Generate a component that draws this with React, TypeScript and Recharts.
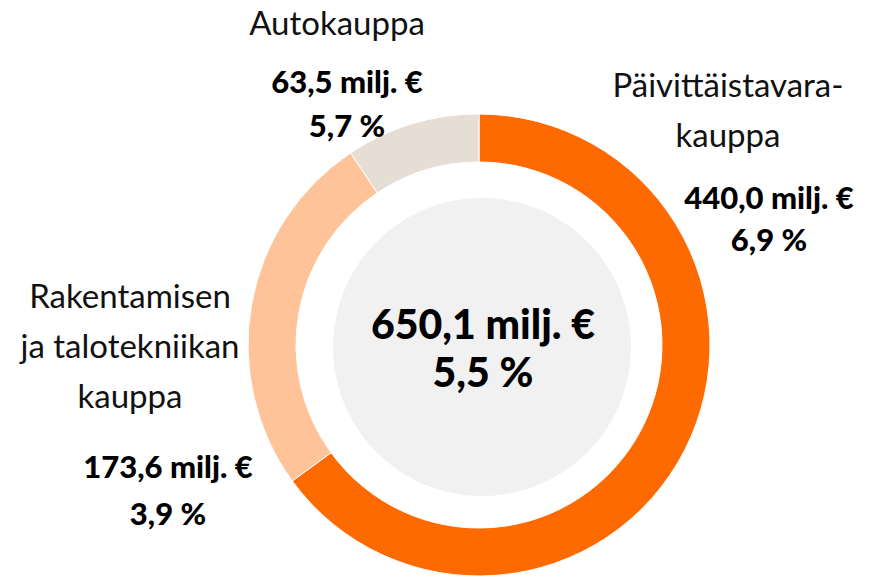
import React from "react";
import { PieChart, Pie, Cell } from "recharts";

/* ─── Segment data ─────────────────────────── */
const segments = ["Päivittäistavarakauppa", "Rakentamisen ja talotekniikan kauppa", "Autokauppa"];
const sales = [440.0, 173.6, 63.5];
const growth = [6.9, 3.9, 5.7];
const COLORS = ["#ff6a00", "#ffc39a", "#e6ded5"];

const totalSales = 650.1;
const totalGrowth = 5.5;

/* label text and placement (name lines + value block) */
const nameLines = [["Päivittäistavara-", "kauppa"], ["Rakentamisen", "ja talotekniikan", "kauppa"], ["Autokauppa"]];
const labelPos = [
  { nx: 728, ny: 59, vx: 769, vy: 176, vl: 42 },
  { nx: 130, ny: 270, vx: 168, vy: 443, vl: 47 },
  { nx: 337, ny: -3, vx: 347, vy: 59, vl: 44 },
];

const fmt = (v: number) => v.toFixed(1).replace(".", ",");
const FONT = "Lato, 'Noto Sans', sans-serif";

const data = segments.map((name, i) => ({ name, value: sales[i] }));

function Label({ i }: { i: number }) {
  const p = labelPos[i];
  return (
    <>
      <div style={{ position: "absolute", left: p.nx - 150, top: p.ny, width: 300, textAlign: "center", fontSize: 33, lineHeight: "50px", color: "#111", fontWeight: 400 }}>
        {nameLines[i].map((l) => <div key={l}>{l}</div>)}
      </div>
      <div style={{ position: "absolute", left: p.vx - 150, top: p.vy, width: 300, textAlign: "center", fontSize: 31, lineHeight: `${p.vl}px`, color: "#000", fontWeight: 900 }}>
        <div>{fmt(sales[i])} milj. €</div>
        <div>{fmt(growth[i])} %</div>
      </div>
    </>
  );
}

export default function App() {
  return (
    <div style={{ position: "absolute", left: 0, top: 0, width: 871, height: 576, background: "#fff", fontFamily: FONT, overflow: "hidden" }}>
      <PieChart width={871} height={600} margin={{ top: 0, right: 0, bottom: 0, left: 0 }}>
        <Pie data={[{ name: "total", value: 1 }]} cx={482} cy={347} innerRadius={0} outerRadius={149} dataKey="value" stroke="none" isAnimationActive={false}>
          <Cell fill="#f1f1f1" />
        </Pie>
        <Pie data={data} cx={479} cy={345} innerRadius={183} outerRadius={231} startAngle={90} endAngle={-270} dataKey="value" stroke="#fff" strokeWidth={1} isAnimationActive={false}>
          {data.map((_, i) => <Cell key={i} fill={COLORS[i]} />)}
        </Pie>
      </PieChart>
      {segments.map((_, i) => <Label key={i} i={i} />)}
      <div style={{ position: "absolute", left: 283, top: 300, width: 400, textAlign: "center", fontSize: 41, lineHeight: "48px", fontWeight: 900, color: "#000" }}>
        <div>{fmt(totalSales)} milj. €</div>
        <div>{fmt(totalGrowth)} %</div>
      </div>
    </div>
  );
}
